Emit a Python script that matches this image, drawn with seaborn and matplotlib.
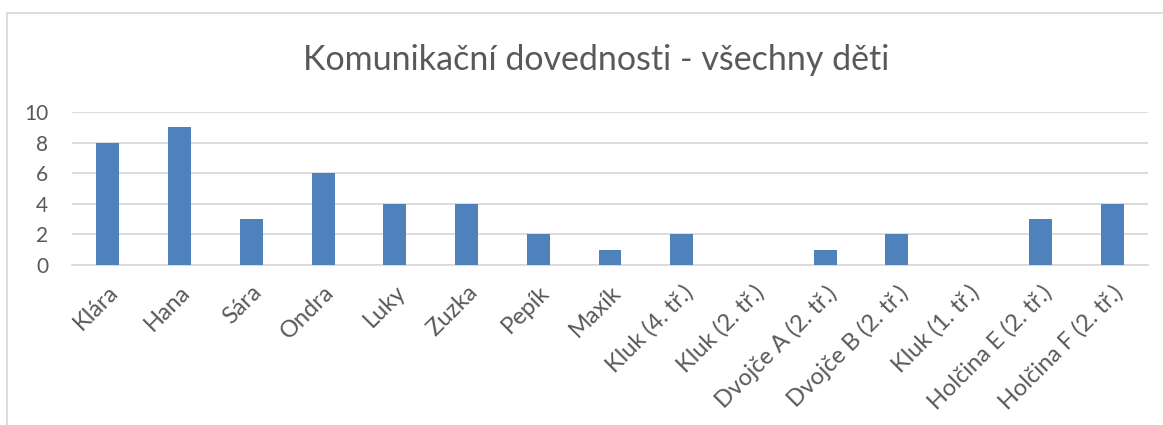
import matplotlib
matplotlib.use("Agg")
import matplotlib.pyplot as plt
import seaborn as sns
import pandas as pd
from matplotlib.lines import Line2D

categories = ["Klára", "Hana", "Sára", "Ondra", "Luky", "Zuzka", "Pepík", "Maxík",
              "Kluk (4. tř.)", "Kluk (2. tř.)", "Dvojče A (2. tř.)", "Dvojče B (2. tř.)",
              "Kluk (1. tř.)", "Holčina E (2. tř.)", "Holčina F (2. tř.)"]
values = [8, 9, 3, 6, 4, 4, 2, 1, 2, 0, 1, 2, 0, 3, 4]
yticks = [0, 2, 4, 6, 8, 10]
title = "Komunikační dovednosti - všechny děti"

sns.set_theme(style="white")
plt.rcParams['font.family'] = ['Lato', 'DejaVu Sans']

W, H = 1163, 425
fig = plt.figure(figsize=(W / 100, H / 100), dpi=100)
ax = fig.add_axes([72 / W, 1 - 265 / H, (1148 - 72) / W, (265 - 112) / H])

df = pd.DataFrame({"name": categories, "value": values})
sns.barplot(data=df, x="name", y="value", color="#4F81BD", width=0.32,
            saturation=1, ax=ax, zorder=3, edgecolor="none")

ax.set_xlim(-0.5, len(categories) - 0.5)
ax.set_ylim(0, 10)
ax.set_yticks(yticks)
ax.yaxis.grid(True, color="#D9D9D9", linewidth=1.3, zorder=0)
ax.set_axisbelow(True)
for s in ["top", "right", "left"]:
    ax.spines[s].set_visible(False)
ax.spines["bottom"].set_color("#D9D9D9")
ax.spines["bottom"].set_linewidth(1.3)
ax.set_xlabel("")
ax.set_ylabel("")
ax.tick_params(axis="both", length=0, colors="#595959")
ax.tick_params(axis="y", pad=17, labelsize=15)
ax.tick_params(axis="x", pad=12, labelsize=17)
plt.setp(ax.get_xticklabels(), rotation=45, ha="right", rotation_mode="anchor")
for lab in ax.get_yticklabels():
    lab.set_horizontalalignment("right")

fig.text(596 / W, 1 - 60 / H, title, ha="center", va="center",
         fontsize=24.5, color="#595959")

# chart frame (cropped on right and bottom)
fig.add_artist(Line2D([7 / W, 1], [1 - 13 / H, 1 - 13 / H], transform=fig.transFigure,
                      color="#D9D9D9", linewidth=1.3))
fig.add_artist(Line2D([7 / W, 7 / W], [0, 1 - 13 / H], transform=fig.transFigure,
                      color="#D9D9D9", linewidth=1.3))

fig.savefig("out.png", dpi=100)
